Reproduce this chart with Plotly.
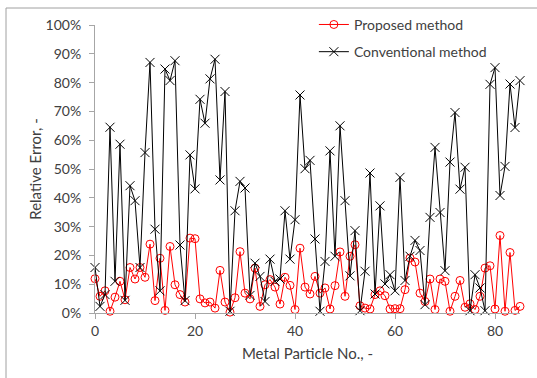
import plotly.graph_objects as go

particle_no = list(range(86))

proposed = [11.9, 5.8, 7.7, 0.6, 5.5, 11.0, 4.6, 15.8, 11.8, 15.8,
            12.4, 23.9, 4.3, 19.0, 0.9, 23.1, 9.8, 6.4, 3.8, 26.0,
            25.8, 4.9, 3.5, 3.8, 1.7, 14.8, 3.8, 0.3, 5.3, 21.3,
            6.9, 4.9, 15.6, 2.3, 9.8, 11.6, 9.0, 3.1, 12.4, 9.6,
            1.2, 22.5, 9.0, 6.6, 12.7, 6.9, 8.7, 1.4, 9.5, 21.2,
            5.8, 19.7, 23.7, 2.5, 1.7, 1.4, 6.4, 7.7, 6.0, 1.4,
            1.5, 1.5, 8.1, 19.1, 17.7, 6.9, 4.0, 11.8, 1.2, 11.8,
            11.0, 0.6, 5.8, 11.3, 2.0, 3.2, 1.2, 5.8, 15.6, 16.4,
            1.4, 26.9, 0.6, 21.0, 0.9, 2.3]

conventional = [15.8, 2.3, 6.4, 64.5, 11.0, 58.6, 4.4, 44.2, 39.0, 15.8,
                55.7, 87.0, 29.1, 7.7, 84.7, 80.7, 87.6, 23.6, 4.3, 54.9,
                43.1, 74.2, 65.9, 81.3, 88.1, 46.2, 76.9, 0.6, 35.5, 45.7,
                43.4, 6.1, 17.3, 12.7, 4.0, 18.7, 11.0, 11.8, 35.5, 18.7,
                32.4, 75.7, 50.1, 53.0, 25.7, 0.6, 17.9, 56.3, 19.7, 65.0,
                39.0, 12.9, 28.6, 0.8, 14.5, 48.6, 6.6, 37.2, 10.1, 13.3,
                7.7, 47.1, 11.3, 19.7, 25.2, 21.7, 2.9, 33.2, 57.5, 34.9,
                14.7, 52.4, 69.6, 43.0, 50.6, 0.8, 13.3, 8.7, 0.8, 79.4,
                85.2, 40.8, 50.9, 79.5, 64.4, 80.7]

y_ticks = [0, 10, 20, 30, 40, 50, 60, 70, 80, 90, 100]
y_tick_labels = [f"{v}%" for v in y_ticks]
x_ticks = [0, 20, 40, 60, 80]

FONT = "Lato"

fig = go.Figure()
fig.add_trace(go.Scatter(
    x=particle_no, y=proposed, name="Proposed method", mode="lines+markers",
    line=dict(color="#FF0000", width=1),
    marker=dict(symbol="circle-open", size=8, color="#FF0000", line=dict(width=1)),
    legendgroup="a", cliponaxis=False,
))
fig.add_trace(go.Scatter(
    x=particle_no, y=conventional, name="Conventional method", mode="lines+markers",
    line=dict(color="#000000", width=1),
    marker=dict(symbol="x-thin-open", size=9, color="#000000", line=dict(width=1)),
    legendgroup="b", cliponaxis=False,
))

fig.update_layout(
    width=537, height=378,
    margin=dict(l=95, r=17, t=25, b=65, autoexpand=False),
    paper_bgcolor="white", plot_bgcolor="white",
    font=dict(family=FONT, size=14, color="#404040"),
    showlegend=True,
    legend=dict(x=0.515, y=1.056, xanchor="left", yanchor="top",
                bgcolor="rgba(0,0,0,0)", font=dict(size=14, family=FONT, color="#404040"),
                tracegroupgap=6, itemwidth=30),
    xaxis=dict(range=[0, 85], tickvals=x_ticks, showgrid=False, zeroline=False,
               showline=True, linecolor="#A6A6A6", linewidth=1,
               ticks="outside", ticklen=5, tickcolor="#A6A6A6",
               tickfont=dict(size=14, family=FONT, color="#404040"),
               title=dict(text="Metal Particle No., -", font=dict(size=15, family=FONT, color="#404040"), standoff=10)),
    yaxis=dict(range=[0, 100], tickvals=y_ticks, ticktext=y_tick_labels, showgrid=False, zeroline=False,
               showline=True, linecolor="#A6A6A6", linewidth=1,
               ticks="outside", ticklen=5, tickcolor="#A6A6A6", ticklabelstandoff=5,
               tickfont=dict(size=14, family=FONT, color="#404040"),
               title=dict(text="Relative Error, -", font=dict(size=15, family=FONT, color="#404040"), standoff=0)),
    shapes=[dict(type="rect", xref="paper", yref="paper",
                 x0=(6 - 95) / 425, x1=2, y0=-1, y1=(313 - 8) / 288,
                 line=dict(color="#A0A0A0", width=1), layer="below")],
)

fig.write_html("out.html", config={"displayModeBar": False},
               post_script="document.body.style.margin='0';")
